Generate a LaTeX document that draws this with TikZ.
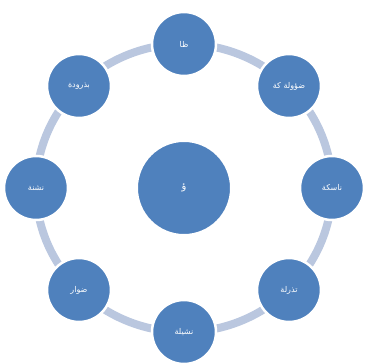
\documentclass[tikz,border=0pt]{standalone}
\usepackage{fontspec}
\usepackage{xcolor}
\usepackage{tikz}
\usetikzlibrary{positioning}
\newfontfamily\arabicfont[Script=Arabic]{DejaVu Sans}
\TeXXeTstate=1
\definecolor{discblue}{HTML}{4F81BD}
\definecolor{ringblue}{HTML}{BAC7DF}

\begin{document}
\begin{tikzpicture}[x=1pt, y=-1pt]
        % Define styles
        \tikzstyle{hub} = [circle, minimum size=94pt, inner sep=0pt, fill=discblue, draw=white, line width=2pt, text=white, font=\arabicfont\normalsize]
        \tikzstyle{petal} = [circle, minimum size=64pt, inner sep=0pt, fill=discblue, draw=white, line width=2.5pt, text=white, font=\arabicfont\footnotesize]
        \tikzstyle{ring} = [draw=ringblue, line width=8pt]

        \useasboundingbox (0,0) rectangle (365,364);

        % Centre
        \node (hub) [hub] at (184,188) {\beginR ؤ\endR};

        % Ring behind the petals
        \draw [ring] (hub.center) ellipse [x radius=148pt, y radius=144pt];

        % Petals, clockwise from the top
        \node (p1) [petal] at (184,44) {\beginR ظا\endR};
        \node (p2) [petal] at (289,86) {\beginR ضؤولة كة\endR};
        \node (p3) [petal] at (332,188) {\beginR ناسكة\endR};
        \node (p4) [petal] at (289,290) {\beginR تذرلة\endR};
        \node (p5) [petal] at (184,332) {\beginR نشيلة\endR};
        \node (p6) [petal] at (79,290) {\beginR ضوار\endR};
        \node (p7) [petal] at (36,188) {\beginR نشنة\endR};
        \node (p8) [petal] at (79,86) {\beginR بذرودة\endR};
    \end{tikzpicture}
\end{document}
